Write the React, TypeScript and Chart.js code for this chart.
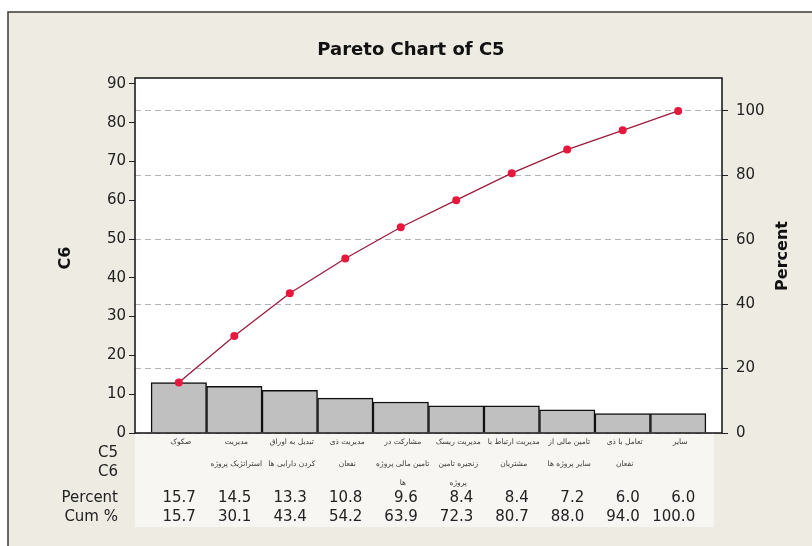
import React, { useEffect, useRef } from "react";
import { Chart, registerables } from "chart.js";

Chart.register(...registerables);

// ---- data ----
const categoryLines: string[][] = [
  ["صکوک"],
  ["مدیریت", "استراتژیک پروژه"],
  ["تبدیل به اوراق", "کردن دارایی ها"],
  ["مدیریت ذی", "نفعان"],
  ["مشارکت در", "تامین مالی پروژه", "ها"],
  ["مدیریت ریسک", "زنجیره تامین", "پروژه"],
  ["مدیریت ارتباط با", "مشتریان"],
  ["تامین مالی از", "سایر پروژه ها"],
  ["تعامل با ذی", "نفعان"],
  ["سایر"],
];
const counts = [13, 12, 11, 9, 8, 7, 7, 6, 5, 5];
const percents = [15.7, 14.5, 13.3, 10.8, 9.6, 8.4, 8.4, 7.2, 6.0, 6.0];
const cumPercents = [15.7, 30.1, 43.4, 54.2, 63.9, 72.3, 80.7, 88.0, 94.0, 100.0];
const rowLabels = ["C5", "C6", "Percent", "Cum %"];
const titleText = "Pareto Chart of C5";
const leftAxisTitle = "C6";
const rightAxisTitle = "Percent";
const countAxisMax = 91.5;
const countStep = 10;
const percentStep = 20;

const total = counts.reduce((a, b) => a + b, 0);
const percentAxisMax = (countAxisMax * 100) / total;

const FONT = "'DejaVu Sans', Verdana, sans-serif";

const decor = {
  id: "decor",
  beforeDraw(chart: any) {
    const { ctx, chartArea: ca, width, height } = chart;
    const xs = chart.scales.x;
    ctx.save();
    ctx.fillStyle = "#ffffff";
    ctx.fillRect(0, 0, width, height);
    ctx.fillStyle = "#eeebe3";
    ctx.fillRect(8, 12, width - 8, height - 12);
    // light table band
    const bandRight = xs.getPixelForValue(counts.length - 0.5) + 8;
    ctx.fillStyle = "#f7f6f2";
    ctx.fillRect(ca.left, ca.bottom, bandRight - ca.left, 94);
    ctx.fillStyle = "#ffffff";
    ctx.fillRect(ca.left, ca.top, ca.right - ca.left, ca.bottom - ca.top);
    ctx.strokeStyle = "#3a3a3a";
    ctx.lineWidth = 1.5;
    ctx.beginPath();
    ctx.moveTo(8, height);
    ctx.lineTo(8, 12);
    ctx.lineTo(width, 12);
    ctx.stroke();
    ctx.restore();
  },
  afterDraw(chart: any) {
    const { ctx, chartArea: ca } = chart;
    const xs = chart.scales.x;
    ctx.save();
    // plot frame
    ctx.strokeStyle = "#111";
    ctx.lineWidth = 1.5;
    ctx.strokeRect(ca.left, ca.top, ca.right - ca.left, ca.bottom - ca.top);

    // title
    ctx.fillStyle = "#111";
    ctx.font = `bold 18px ${FONT}`;
    ctx.textAlign = "center";
    ctx.textBaseline = "middle";
    ctx.fillText(titleText, 411, 50);

    // axis titles
    ctx.font = `bold 16px ${FONT}`;
    ctx.save();
    ctx.translate(66, 258);
    ctx.rotate(-Math.PI / 2);
    ctx.fillText(leftAxisTitle, 0, 0);
    ctx.restore();
    ctx.save();
    ctx.translate(783, 256);
    ctx.rotate(-Math.PI / 2);
    ctx.fillText(rightAxisTitle, 0, 0);
    ctx.restore();

    // row labels
    const rowY = [453, 472, 498, 517];
    ctx.font = `15px ${FONT}`;
    ctx.fillStyle = "#222";
    ctx.textAlign = "right";
    rowLabels.forEach((t, i) => ctx.fillText(t, ca.left - 17, rowY[i]));

    // category labels
    const lineY = [442, 464, 483];
    ctx.font = `7.5px ${FONT}`;
    ctx.fillStyle = "#3a3a3a";
    ctx.textAlign = "center";
    categoryLines.forEach((lines, i) => {
      const cx = xs.getPixelForValue(i) + 2;
      lines.forEach((ln, j) => ctx.fillText(ln, cx, lineY[j]));
    });

    // numbers
    ctx.font = `15px ${FONT}`;
    ctx.fillStyle = "#222";
    ctx.textAlign = "right";
    percents.forEach((p, i) => {
      const rx = xs.getPixelForValue(i) + 17;
      ctx.fillText(p.toFixed(1), rx, rowY[2]);
      ctx.fillText(cumPercents[i].toFixed(1), rx, rowY[3]);
    });
    ctx.restore();
  },
};

export default function App() {
  const ref = useRef<HTMLCanvasElement | null>(null);
  useEffect(() => {
    if (!ref.current) return;
    const chart = new Chart(ref.current, {
      type: "bar",
      data: {
        datasets: [
          {
            type: "line",
            data: cumPercents.map((v, i) => ({ x: i, y: v })),
            yAxisID: "yPct",
            xAxisID: "x",
            borderColor: "#9a1c3c",
            borderWidth: 1.3,
            pointRadius: 4,
            pointBackgroundColor: "#e8173c",
            pointBorderColor: "#e8173c",
            pointBorderWidth: 0,
            tension: 0,
            order: 0,
          } as any,
          {
            type: "bar",
            data: counts.map((v, i) => ({ x: i, y: v })),
            yAxisID: "y",
            xAxisID: "x",
            backgroundColor: "#c0c0c0",
            borderColor: "#111",
            borderWidth: 1.5,
            barPercentage: 1,
            categoryPercentage: 1,
            order: 1,
          } as any,
        ],
      },
      options: {
        responsive: false,
        animation: false,
        devicePixelRatio: 1,
        layout: { padding: { top: 78, bottom: 113, left: 0, right: 0 } },
        plugins: {
          legend: { display: false },
          tooltip: { enabled: false },
          title: { display: false },
        },
        scales: {
          x: {
            type: "linear",
            min: -0.79,
            max: counts.length - 1 + 0.79,
            offset: false,
            display: false,
            ticks: { stepSize: 1, includeBounds: false },
          },
          y: {
            type: "linear",
            position: "left",
            min: 0,
            max: countAxisMax,
            ticks: {
              stepSize: countStep,
              includeBounds: false,
              padding: 3,
              color: "#222",
              font: { family: FONT, size: 15 },
            },
            grid: {
              drawOnChartArea: false,
              drawTicks: true,
              tickLength: 6,
              tickColor: "#222",
              tickWidth: 1,
            },
            border: { display: false },
            afterFit: (s: any) => {
              s.width = 135;
            },
          },
          yPct: {
            type: "linear",
            position: "right",
            min: 0,
            max: percentAxisMax,
            ticks: {
              stepSize: percentStep,
              includeBounds: false,
              padding: 8,
              color: "#222",
              font: { family: FONT, size: 15 },
            },
            grid: {
              drawOnChartArea: true,
              color: "#b4b4b4",
              lineWidth: 1,
              drawTicks: true,
              tickLength: 6,
              tickColor: "#222",
              tickWidth: 1,
            },
            border: { display: false, dash: [6, 4] },
            afterFit: (s: any) => {
              s.width = 90;
            },
          },
        },
      } as any,
      plugins: [decor],
    });
    return () => chart.destroy();
  }, []);
  return (
    <div style={{ position: "absolute", left: 0, top: 0, width: 812, height: 546 }}>
      <canvas ref={ref} width={812} height={546} />
    </div>
  );
}
